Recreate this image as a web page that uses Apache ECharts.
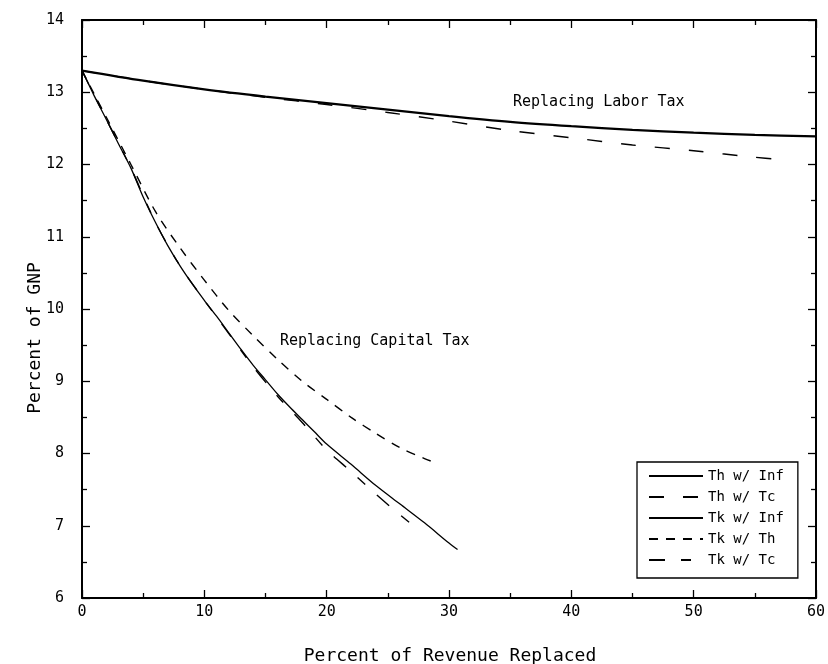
<!DOCTYPE html>
<html><head><meta charset="utf-8">
<script src="https://cdn.jsdelivr.net/npm/echarts@6/dist/echarts.min.js"></script>
<style>html,body{margin:0;padding:0;background:#fff}#c{width:828px;height:664px}</style>
</head><body><div id="c"></div>
<script>
// Replacing labor tax
const thInfX = [0,5,10,15,20,25,30,35,40,45,50,55,60];
const thInfY = [13.3,13.16,13.04,12.94,12.85,12.76,12.67,12.59,12.53,12.48,12.44,12.41,12.39];
const thTcX  = [0,5,10,15,20,25,30,35,40,45,50,55,57];
const thTcY  = [13.3,13.16,13.04,12.93,12.83,12.72,12.6,12.47,12.37,12.27,12.19,12.1,12.07];
// Replacing capital tax
const tkInfX = [0,1,2,3,4,5,6,7,8,9,10,11,12,13,14,15,16,17,18,19,20,22,24,26,28,30,30.7];
const tkInfY = [13.3,12.95,12.62,12.28,11.95,11.55,11.2,10.88,10.6,10.35,10.12,9.9,9.67,9.44,9.22,9.02,8.82,8.64,8.47,8.3,8.13,7.85,7.56,7.3,7.04,6.76,6.67];
const tkThX  = [0,2,4,6,8,10,12,14,16,18,20,22,24,26,28,28.6];
const tkThY  = [13.3,12.65,12.0,11.35,10.85,10.4,9.98,9.63,9.3,9.0,8.75,8.5,8.28,8.08,7.93,7.89];
const tkTcX  = [0,2,4,6,8,10,12,14,16,18,20,22,24,26,27.4];
const tkTcY  = [13.3,12.62,11.95,11.2,10.6,10.12,9.66,9.2,8.79,8.43,8.05,7.75,7.44,7.15,6.96];

const seriesNames = ['Th w/ Inf','Th w/ Tc','Tk w/ Inf','Tk w/ Th','Tk w/ Tc'];
const xTicks = [0,10,20,30,40,50,60];
const yTicks = [6,7,8,9,10,11,12,13,14];
const xTitle = 'Percent of Revenue Replaced';
const yTitle = 'Percent of GNP';
const labelLabor = 'Replacing Labor Tax';
const labelCapital = 'Replacing Capital Tax';

const zip = (xs, ys) => xs.map((x, i) => [x, ys[i]]);
const FONT = 'DejaVu Sans Mono';

const styles = [
  {width: 2.2, type: 'solid'},
  {width: 1.4, type: [15, 19]},
  {width: 1.3, type: 'solid'},
  {width: 1.4, type: [9, 8]},
  {width: 1.4, type: [16, 16, 10, 16]}
];
const data = [zip(thInfX, thInfY), zip(thTcX, thTcY), zip(tkInfX, tkInfY), zip(tkThX, tkThY), zip(tkTcX, tkTcY)];

const axisCommon = {
  min: 0, max: 60, interval: 10,
  axisLine: {show: true, onZero: false, lineStyle: {color: '#000', width: 2}},
  axisTick: {show: true, inside: true, length: 8, lineStyle: {color: '#000', width: 1.3}},
  minorTick: {show: true, splitNumber: 2, length: 5, lineStyle: {color: '#000', width: 1.3}},
  splitLine: {show: false}
};
const yCommon = Object.assign({}, axisCommon, {min: 6, max: 14, interval: 1});

const chart = echarts.init(document.getElementById('c'), null, {renderer: 'canvas'});
chart.setOption({
  animation: false,
  backgroundColor: '#fff',
  grid: {left: 82, right: 12, top: 20, bottom: 66},
  xAxis: [
    Object.assign({}, axisCommon, {type: 'value', position: 'bottom',
      axisLabel: {show: true, margin: 7, color: '#000', fontFamily: FONT, fontSize: 15,
        formatter: v => xTicks.includes(v) ? String(v) : ''}}),
    Object.assign({}, axisCommon, {type: 'value', position: 'top', axisLabel: {show: false}})
  ],
  yAxis: [
    Object.assign({}, yCommon, {type: 'value', position: 'left',
      axisLabel: {show: true, margin: 18, color: '#000', fontFamily: FONT, fontSize: 15,
        formatter: v => yTicks.includes(v) ? String(v) : ''}}),
    Object.assign({}, yCommon, {type: 'value', position: 'right', axisLabel: {show: false}})
  ],
  legend: {
    show: true, orient: 'vertical', left: 637, top: 462,
    padding: [7, 14, 11, 11], itemGap: 7, itemWidth: 54, itemHeight: 14,
    borderColor: '#000', borderWidth: 1.3, backgroundColor: '#fff',
    itemStyle: {opacity: 0},
    textStyle: {color: '#000', fontFamily: FONT, fontSize: 14},
    data: seriesNames
  },
  series: seriesNames.map((n, i) => ({
    name: n, type: 'line', data: data[i], symbol: 'none', showSymbol: false,
    smooth: 0.3, lineStyle: {color: '#000', width: styles[i].width, type: styles[i].type},
    itemStyle: {color: '#000'}, z: 2
  })),
  graphic: [
    {type: 'text', left: 513, top: 95, style: {text: labelLabor, fill: '#000', font: '15px "DejaVu Sans Mono"'}},
    {type: 'text', left: 280, top: 334, style: {text: labelCapital, fill: '#000', font: '15px "DejaVu Sans Mono"'}},
    {type: 'text', x: 450, y: 656, style: {text: xTitle, fill: '#000', font: '18px "DejaVu Sans Mono"', align: 'center', verticalAlign: 'middle'}},
    {type: 'text', x: 35, y: 338, rotation: Math.PI / 2, style: {text: yTitle, fill: '#000', font: '18px "DejaVu Sans Mono"', align: 'center', verticalAlign: 'middle'}}
  ]
});
</script></body></html>
